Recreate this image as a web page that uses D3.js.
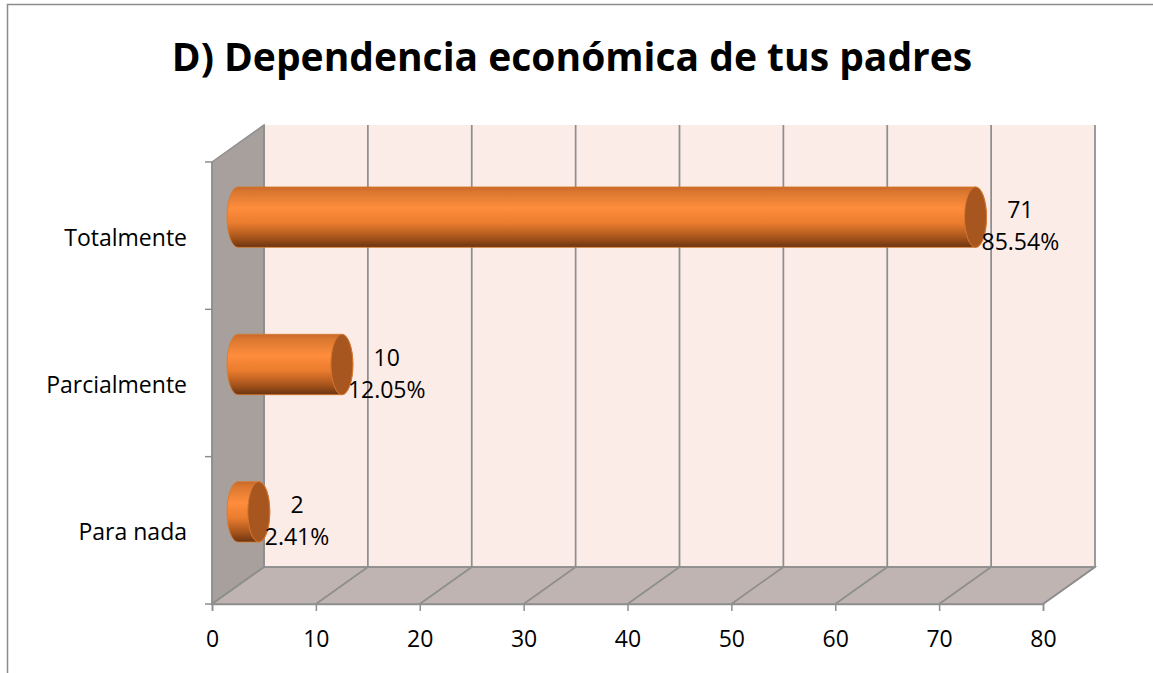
<!DOCTYPE html>
<html lang="es">
<head>
    <meta charset="UTF-8">
    <script type="text/javascript" src="https://cdn.jsdelivr.net/npm/d3@7/dist/d3.min.js"></script>
    <title>Dependencia económica</title>
    <style>
        body { margin: 0; background: #fff; }
        text { font-family: "Open Sans", "Noto Sans", sans-serif; fill: #000; }
    </style>
</head>
<body>
</body>
<script>
    // datos
    const categories = ["Totalmente", "Parcialmente", "Para nada"];
    const counts = [71, 10, 2];
    const percents = ["85.54%", "12.05%", "2.41%"];
    const xTicks = [0, 10, 20, 30, 40, 50, 60, 70, 80];
    const title = "D) Dependencia económica de tus padres";

    let width = 1153, height = 673;
    let svg = d3.select("body")
        .append("svg")
        .attr("width", width)
        .attr("height", height);

    // profundidad 3D
    const DX = 52, DY = -37;
    const x = d3.scaleLinear().domain([0, 80]).range([212, 1043]);
    const y = d3.scaleBand().domain(categories).range([162, 604])
        .paddingInner(0.59).paddingOuter(0.295);
    const yTop = 162, yBot = 604;
    const gridColor = "#8e8e8e";
    const fs = "23px";

    // marco del grafico
    svg.append("path")
        .attr("d", `M7.5,${height} V4.5 H${width}`)
        .attr("fill", "none")
        .attr("stroke", "#8c8c8c")
        .attr("stroke-width", 1.5);

    svg.append("text")
        .attr("x", 572)
        .attr("y", 71)
        .attr("text-anchor", "middle")
        .style("font-size", "39px")
        .style("font-weight", "bold")
        .text(title);

    let defs = svg.append("defs");
    let grad = defs.append("linearGradient")
        .attr("id", "cyl")
        .attr("x1", 0).attr("y1", 0).attr("x2", 0).attr("y2", 1);
    [[0, "#c8692c"], [0.07, "#d8762f"], [0.35, "#ff8d3c"], [0.6, "#ea7c2e"],
        [0.85, "#a3521b"], [1, "#6a3411"]].forEach(s => {
        grad.append("stop").attr("offset", s[0]).attr("stop-color", s[1]);
    });

    let x0 = x(0), x1 = x(80);
    // pared del fondo
    svg.append("polygon")
        .attr("points", [[x0 + DX, yTop + DY], [x1 + DX, yTop + DY], [x1 + DX, yBot + DY], [x0 + DX, yBot + DY]].join(" "))
        .attr("fill", "#fbece8");
    // pared izquierda
    svg.append("polygon")
        .attr("points", [[x0, yTop], [x0 + DX, yTop + DY], [x0 + DX, yBot + DY], [x0, yBot]].join(" "))
        .attr("fill", "#a7a09c")
        .attr("stroke", gridColor)
        .attr("stroke-width", 1.5);
    // piso
    svg.append("polygon")
        .attr("points", [[x0, yBot], [x1, yBot], [x1 + DX, yBot + DY], [x0 + DX, yBot + DY]].join(" "))
        .attr("fill", "#bfb4b1")
        .attr("stroke", gridColor)
        .attr("stroke-width", 1.5);

    // lineas de division
    svg.selectAll(".grid")
        .data(xTicks)
        .enter()
        .append("path")
        .attr("d", d => `M${x(d)},${yBot} L${x(d) + DX},${yBot + DY} V${yTop + DY}`)
        .attr("fill", "none")
        .attr("stroke", gridColor)
        .attr("stroke-width", 1.75);
    svg.append("line")
        .attr("x1", x0 + DX).attr("x2", x1 + DX)
        .attr("y1", yBot + DY).attr("y2", yBot + DY)
        .attr("stroke", gridColor).attr("stroke-width", 1.5);

    // eje x
    let xAxis = svg.append("g")
        .attr("transform", `translate(0,${yBot})`)
        .call(d3.axisBottom(x).tickValues(xTicks).tickSize(7).tickPadding(20));
    xAxis.select(".domain").attr("stroke", gridColor).attr("stroke-width", 1.5);
    xAxis.selectAll(".tick line").attr("stroke", gridColor).attr("stroke-width", 1.5);
    xAxis.selectAll(".tick text")
        .style("font-family", "'Open Sans', sans-serif")
        .style("font-size", fs)
        .attr("fill", "#000");

    // eje y
    let yEdges = categories.map(c => y(c) - y.step() * y.paddingInner() / 2).concat([yBot]);
    svg.append("line")
        .attr("x1", x0).attr("x2", x0).attr("y1", yTop).attr("y2", yBot)
        .attr("stroke", gridColor).attr("stroke-width", 1.5);
    svg.selectAll(".ytick")
        .data(yEdges)
        .enter()
        .append("line")
        .attr("x1", x0 - 7).attr("x2", x0)
        .attr("y1", d => d).attr("y2", d => d)
        .attr("stroke", gridColor).attr("stroke-width", 1.5);
    svg.selectAll(".ylab")
        .data(categories)
        .enter()
        .append("text")
        .attr("x", 187)
        .attr("y", d => y(d) + y.bandwidth() / 2 + 10)
        .attr("text-anchor", "end")
        .style("font-size", fs)
        .text(d => d);

    // barras cilindricas
    const rx = 11;
    let bars = svg.selectAll(".bar")
        .data(categories)
        .enter()
        .append("g");

    bars.append("path")
        .attr("d", (d, i) => {
            let xs = x(0) + DX / 2, xe = x(counts[i]) + DX / 2;
            let t = y(d) + DY / 2, h = y.bandwidth(), ry = h / 2;
            return `M${xs},${t} L${xe},${t} A${rx},${ry} 0 0 1 ${xe},${t + h} L${xs},${t + h} A${rx},${ry} 0 0 1 ${xs},${t} Z`;
        })
        .attr("fill", "url(#cyl)")
        .attr("stroke", "#d8782f")
        .attr("stroke-width", 0.8);

    bars.append("ellipse")
        .attr("cx", (d, i) => x(counts[i]) + DX / 2)
        .attr("cy", d => y(d) + DY / 2 + y.bandwidth() / 2)
        .attr("rx", rx)
        .attr("ry", y.bandwidth() / 2)
        .attr("fill", "#a8561f")
        .attr("stroke", "#d8782f")
        .attr("stroke-width", 1);

    // etiquetas de datos
    bars.each(function (d, i) {
        let g = d3.select(this);
        let cy = y(d) + DY / 2 + y.bandwidth() / 2;
        let xe = x(counts[i]) + DX / 2;
        let pct = g.append("text")
            .attr("y", cy + 33)
            .attr("text-anchor", "middle")
            .style("font-size", fs)
            .text(percents[i]);
        let w = pct.node().getComputedTextLength();
        let cx = xe + 6 + w / 2;
        pct.attr("x", cx);
        g.append("text")
            .attr("x", cx)
            .attr("y", cy + 1)
            .attr("text-anchor", "middle")
            .style("font-size", fs)
            .text(counts[i]);
    });

</script>
</html>
